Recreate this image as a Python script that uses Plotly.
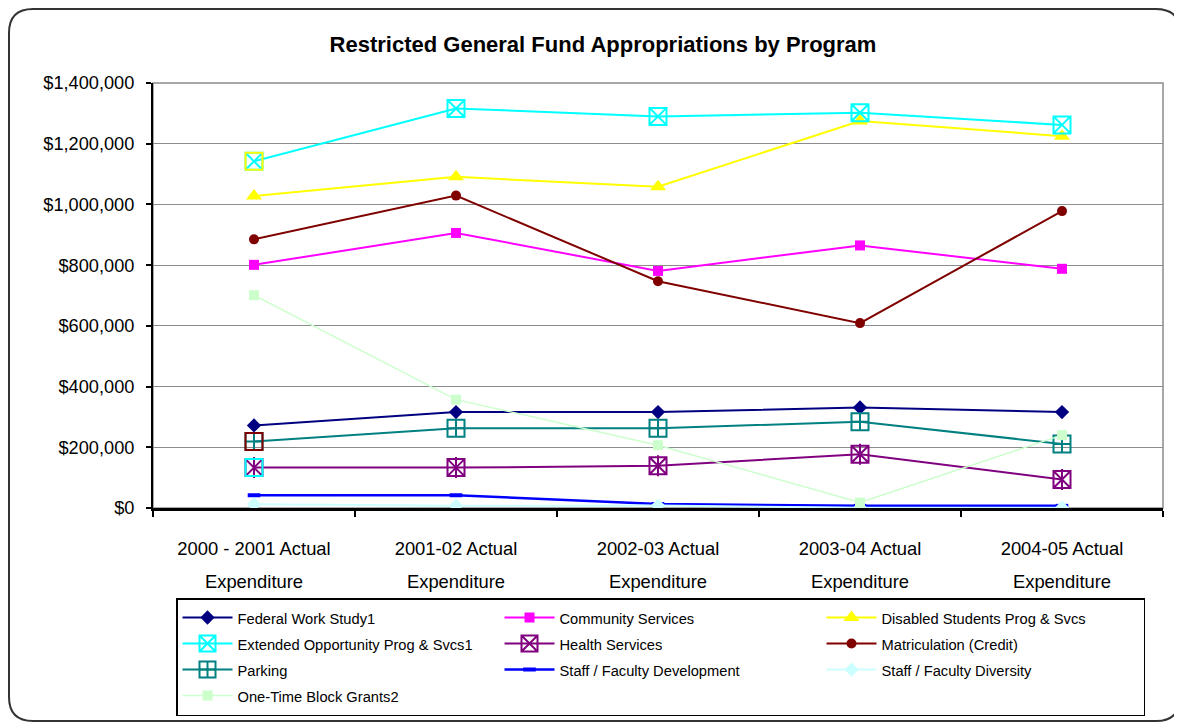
import plotly.graph_objects as go

categories = ["2000 - 2001 Actual<br>Expenditure", "2001-02 Actual<br>Expenditure",
              "2002-03 Actual<br>Expenditure", "2003-04 Actual<br>Expenditure",
              "2004-05 Actual<br>Expenditure"]
cat_keys = ["2000-01", "2001-02", "2002-03", "2003-04", "2004-05"]

federal_work_study = [272000, 316000, 316000, 331000, 316000]
community_services = [801000, 906000, 781000, 865000, 788000]
disabled_students = [1028000, 1091000, 1058000, 1275000, 1225000]
extended_opportunity = [1142000, 1316000, 1290000, 1302000, 1262000]
health_services = [133000, 133000, 139000, 177000, 94000]
matriculation = [885000, 1029000, 747000, 609000, 978000]
parking = [219000, 263000, 263000, 284000, 211000]
staff_development = [42000, 42000, 13000, 7000, 7000]
staff_diversity = [12000, 7000, 8000, 1000, 1000]
one_time_block = [701000, 357000, 207000, 18000, 240000]

y_ticks = [0, 200000, 400000, 600000, 800000, 1000000, 1200000, 1400000]
y_tick_labels = ["$0", "$200,000", "$400,000", "$600,000", "$800,000",
                 "$1,000,000", "$1,200,000", "$1,400,000"]

series = [
    ("Federal Work Study1", federal_work_study, "#000080", "diamond", 11, 2),
    ("Community Services", community_services, "#FF00FF", "square", 10, 2),
    ("Disabled Students Prog & Svcs", disabled_students, "#FFFF00", "triangle-up", 14, 2),
    ("Extended Opportunity Prog & Svcs1", extended_opportunity, "#00FFFF", "square-x-open", 17, 2),
    ("Health Services", health_services, "#800080", "square-x-open", 17, 2),
    ("Matriculation (Credit)", matriculation, "#800000", "circle", 10, 2),
    ("Parking", parking, "#008080", "square-cross-open", 17, 2),
    ("Staff / Faculty Development", staff_development, "#0000FF", "line-ew", 9, 2.5),
    ("Staff / Faculty Diversity", staff_diversity, "#CCFFFF", "diamond", 11, 2),
    ("One-Time Block Grants2", one_time_block, "#CCFFCC", "square", 10, 1.5),
]

# In the original, the first-category box markers of three series carry another
# series' border colour.
first_box_border = {
    "Extended Opportunity Prog & Svcs1": "#FFFF00",
    "Health Services": "#00FFFF",
    "Parking": "#800000",
}

fig = go.Figure()
for name, vals, color, sym, size, lw in series:
    open_sym = sym.endswith("open") or sym.startswith("line")
    marker = dict(symbol=sym, size=size, color=color)
    if open_sym:
        marker["line"] = dict(color=color, width=2 if sym != "line-ew" else 4)
    fig.add_trace(go.Scatter(
        x=cat_keys, y=vals, mode="lines+markers",
        name=f'<span style="font-size:14.7px">{name}</span>',
        line=dict(color=color, width=lw), marker=marker, legendgroup=name,
    ))
    if name == "Health Services":
        fig.add_trace(go.Scatter(
            x=cat_keys, y=vals, mode="markers", showlegend=False, legendgroup=name,
            marker=dict(symbol="line-ns", size=15, color=color, line=dict(color=color, width=2)),
            hoverinfo="skip",
        ))
    if name in first_box_border:
        bc = first_box_border[name]
        fig.add_trace(go.Scatter(
            x=cat_keys[:1], y=vals[:1], mode="markers", showlegend=False, legendgroup=name,
            marker=dict(symbol="square-open", size=size, color=bc,
                        line=dict(color=bc, width=2)),
            hoverinfo="skip",
        ))

# The page body adds an 8px offset, so the figure is laid out in (page - 8) pixels.
OFF = 8
W, H = 1182 - OFF, 724 - OFF
L, R, T, B = 153 - OFF, 1163 - OFF, 83 - OFF, 508 - OFF


def px(x):
    return (x - OFF - L) / (R - L)


def py(y):
    return (B - (y - OFF)) / (B - T)


x0, y0, x1, y1, r = 9, 9, 1180, 721, 24
path = (f"M {px(x0 + r)},{py(y0)} L {px(x1 - r)},{py(y0)} Q {px(x1)},{py(y0)} {px(x1)},{py(y0 + r)} "
        f"L {px(x1)},{py(y1 - r)} Q {px(x1)},{py(y1)} {px(x1 - r)},{py(y1)} "
        f"L {px(x0 + r)},{py(y1)} Q {px(x0)},{py(y1)} {px(x0)},{py(y1 - r)} "
        f"L {px(x0)},{py(y0 + r)} Q {px(x0)},{py(y0)} {px(x0 + r)},{py(y0)} Z")

tick_text = [f'<span style="font-size:18.4px">{c}</span>' for c in categories]

fig.update_layout(
    width=W, height=H,
    margin=dict(l=L, r=W - R, t=T, b=H - B, pad=0, autoexpand=False),
    paper_bgcolor="white", plot_bgcolor="white",
    font=dict(family="Liberation Sans, Arial, sans-serif", color="black"),
    title=dict(text="<b>Restricted General Fund Appropriations by Program</b>",
               xref="container", yref="container",
               x=(603 - OFF) / W, xanchor="center", y=1 - (44 - OFF) / H, yanchor="middle",
               font=dict(size=22, family="Liberation Sans, Arial, sans-serif", color="black")),
    xaxis=dict(
        type="category", range=[-0.5, 4.5], tickvals=cat_keys, ticktext=tick_text,
        tickfont=dict(size=25.4, color="black"),
        ticks="outside", ticklen=6, tickwidth=1.5, tickcolor="black", tickson="boundaries",
        showline=True, linecolor="black", linewidth=2.5, showgrid=False, zeroline=False,
        ticklabelstandoff=14, automargin=False,
    ),
    yaxis=dict(
        range=[0, 1400000], tickvals=y_ticks, ticktext=y_tick_labels,
        tickfont=dict(size=18.2, color="black"),
        ticks="outside", ticklen=5, tickwidth=1.5, tickcolor="black",
        showline=True, linecolor="black", linewidth=2,
        showgrid=True, gridcolor="#8C8C8C", gridwidth=1, zeroline=False,
        ticklabelstandoff=8, automargin=False,
    ),
    legend=dict(
        orientation="h", x=px(176), xanchor="left", y=py(598), yanchor="top",
        bgcolor="white", bordercolor="black", borderwidth=1.5,
        font=dict(size=17.7, color="black"),
        entrywidth=257, entrywidthmode="pixels", itemwidth=50,
        traceorder="normal", itemclick=False,
    ),
    shapes=[
        dict(type="rect", xref="paper", yref="paper", x0=0, y0=0, x1=1, y1=1,
             line=dict(color="#8C8C8C", width=1.5), layer="below"),
        dict(type="path", xref="paper", yref="paper", path=path,
             line=dict(color="#333333", width=2)),
    ],
    showlegend=True,
)

fig.write_html("out.html")
